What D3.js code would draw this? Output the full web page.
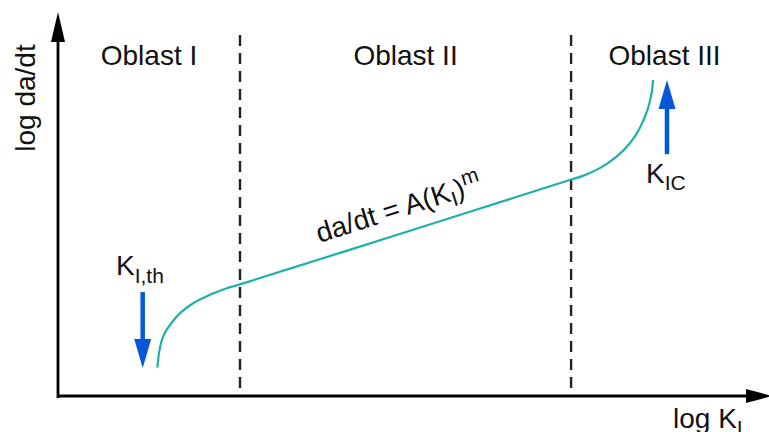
<!DOCTYPE html>
<html>
<head>
<meta charset="utf-8">
<script src="https://cdn.jsdelivr.net/npm/d3@7"></script>
<style>
  body { margin: 0; background: #fff; }
  text { font-family: "Liberation Sans", Arial, sans-serif; fill: #111; }
</style>
</head>
<body>
<script>
// chart size
var w = 769;
var h = 432;

// regions (log K units, 0..100)
var regionNames = ["Oblast I", "Oblast II", "Oblast III"];
var regionBounds = [0, 26, 73.3, 100];

// crack growth curve
var curveK = [14.2, 14.5, 15.0, 16.0, 17.4, 19.3, 21.7, 24.1, 26.0, 49.6, 73.1, 75.0, 77.4, 79.8, 81.7, 83.1, 84.2, 84.8, 85.0];
var curveV = [8.1, 13.1, 16.9, 20.3, 23.6, 26.5, 28.9, 30.8, 31.9, 46.8, 61.7, 62.9, 65.1, 68.4, 72.2, 76.5, 81.7, 86.5, 90.3];

// threshold and fracture toughness markers
var thK = 12.1, thTop = 29.7, thTip = 8.0;
var icK = 87.0, icBottom = 69.1, icTip = 90.3;

var x = d3.scaleLinear().domain([0, 100]).range([58, 758]);
var y = d3.scaleLinear().domain([0, 100]).range([396, 46]);

var svg = d3.select("body")
  .append("svg")
  .attr("width", w)
  .attr("height", h);

var blue = "#0457d8";
var teal = "#1fb0aa";

// dashed region borders
svg.selectAll("line.border")
  .data(regionBounds.slice(1, 3))
  .enter()
  .append("line")
  .attr("class", "border")
  .attr("x1", function(d) { return x(d); })
  .attr("x2", function(d) { return x(d); })
  .attr("y1", 35)
  .attr("y2", y(0))
  .attr("stroke", "#222")
  .attr("stroke-width", 2.4)
  .attr("stroke-dasharray", "11,7");

// region labels
svg.selectAll("text.region")
  .data(regionNames)
  .enter()
  .append("text")
  .attr("class", "region")
  .attr("x", function(d, i) { return (x(regionBounds[i]) + x(regionBounds[i + 1])) / 2; })
  .attr("y", 65)
  .attr("text-anchor", "middle")
  .style("font-size", "28px")
  .text(function(d) { return d; });

// axes with arrowheads
svg.append("line")
  .attr("x1", x(0)).attr("y1", y(0) + 2)
  .attr("x2", x(0)).attr("y2", 30)
  .attr("stroke", "#000").attr("stroke-width", 2.8);
svg.append("path")
  .attr("d", "M" + x(0) + ",12 L" + (x(0) - 7) + ",42 L" + (x(0) + 7) + ",42 Z")
  .attr("fill", "#000");
svg.append("line")
  .attr("x1", x(0) - 1).attr("y1", y(0))
  .attr("x2", 750).attr("y2", y(0))
  .attr("stroke", "#000").attr("stroke-width", 2.8);
svg.append("path")
  .attr("d", "M772," + y(0) + " L746," + (y(0) - 7) + " L746," + (y(0) + 7) + " Z")
  .attr("fill", "#000");

// axis titles
svg.append("text")
  .attr("transform", "translate(35,98) rotate(-90)")
  .attr("text-anchor", "middle")
  .style("font-size", "28px")
  .text("log da/dt");

var xt = svg.append("text")
  .attr("x", 673)
  .attr("y", 428)
  .style("font-size", "28px");
xt.append("tspan").text("log K");
xt.append("tspan").attr("dy", 7).style("font-size", "21px").text("I");

// curve
var pts = curveK.map(function(k, i) { return [k, curveV[i]]; });
var line = d3.line()
  .x(function(d) { return x(d[0]); })
  .y(function(d) { return y(d[1]); })
  .curve(d3.curveCatmullRom.alpha(0.5));

svg.append("path")
  .datum(pts)
  .attr("d", line)
  .attr("fill", "none")
  .attr("stroke", teal)
  .attr("stroke-width", 2.2);

// equation along the straight part
var p0 = [x(curveK[8]), y(curveV[8])];
var p1 = [x(curveK[10]), y(curveV[10])];
var ang = Math.atan2(p1[1] - p0[1], p1[0] - p0[0]);
var mx = x(49.6) + 1, my = y(46.8);
var off = 16;
var ex = mx + off * Math.sin(ang), ey = my - off * Math.cos(ang);
var eq = svg.append("text")
  .attr("transform", "translate(" + ex + "," + ey + ") rotate(" + (ang * 180 / Math.PI) + ")")
  .attr("text-anchor", "middle")
  .style("font-size", "28px");
eq.append("tspan").text("da/dt = A(K");
eq.append("tspan").attr("dy", 6).style("font-size", "21px").text("I");
eq.append("tspan").attr("dy", -6).text(")");
eq.append("tspan").attr("dy", -11).style("font-size", "21px").text("m");

// blue arrows for K_I,th (down) and K_IC (up)
function arrow(k, from, to) {
  var ax = x(k), ay0 = y(from), ay1 = y(to);
  var dir = ay1 > ay0 ? 1 : -1;
  var head = 29;
  svg.append("line")
    .attr("x1", ax).attr("y1", ay0)
    .attr("x2", ax).attr("y2", ay1 - dir * head + dir * 2)
    .attr("stroke", blue).attr("stroke-width", 4.5);
  svg.append("path")
    .attr("d", "M" + ax + "," + ay1 + " L" + (ax - 8.5) + "," + (ay1 - dir * head) +
      " L" + (ax + 8.5) + "," + (ay1 - dir * head) + " Z")
    .attr("fill", blue);
}
arrow(thK, thTop, thTip);
arrow(icK, icBottom, icTip);

var t1 = svg.append("text")
  .attr("x", 116)
  .attr("y", 275)
  .style("font-size", "28px");
t1.append("tspan").text("K");
t1.append("tspan").attr("dy", 8).style("font-size", "21px").text("I,th");

var t2 = svg.append("text")
  .attr("x", 646)
  .attr("y", 183)
  .style("font-size", "28px");
t2.append("tspan").text("K");
t2.append("tspan").attr("dy", 7).style("font-size", "21px").text("IC");
</script>
</body>
</html>
